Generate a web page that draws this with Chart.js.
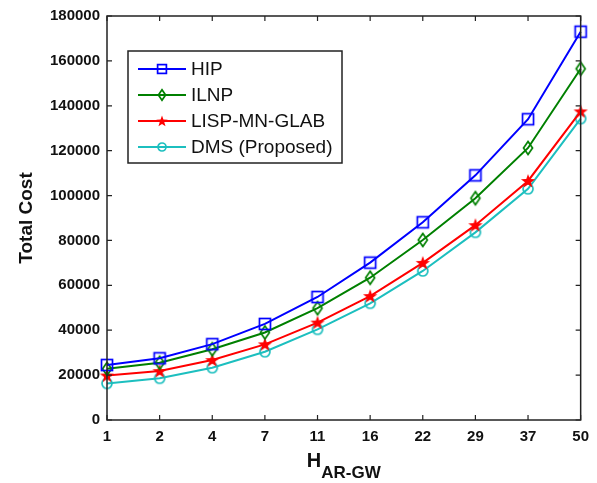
<!DOCTYPE html>
<html><head><meta charset="utf-8">
<script src="https://cdn.jsdelivr.net/npm/chart.js@4/dist/chart.umd.min.js"></script>
<style>html,body{margin:0;padding:0;background:#fff;}canvas{display:block}</style>
</head><body>
<canvas id="c" width="597" height="483"></canvas>
<script>
const categories = ['1','2','4','7','11','16','22','29','37','50'];
const seriesNames = ['HIP','ILNP','LISP-MN-GLAB','DMS (Proposed)'];
const hipValues  = [24500, 27500, 33800, 42800, 54800, 70100, 88100, 109000, 134000, 173000];
const ilnpValues = [22800, 25500, 31500, 39000, 49800, 63400, 80200, 98800, 121200, 156500];
const lispValues = [19800, 21800, 26700, 33700, 43400, 55200, 70000, 86800, 106500, 137500];
const dmsValues  = [16300, 18600, 23300, 30400, 40400, 52000, 66400, 83600, 103000, 134300];
const yTickValues = [0,20000,40000,60000,80000,100000,120000,140000,160000,180000];
const yTitle = 'Total Cost';
const xTitleMain = 'H';
const xTitleSub = 'AR-GW';

const FONT = "'Liberation Sans', Arial, sans-serif";
const colors = ['#0000FF', '#008000', '#FF0000', '#1CBFBF'];

function makeMarker(kind, color, scale){
  const s = 18, m = s/2;
  const c = document.createElement('canvas'); c.width = s; c.height = s;
  const g = c.getContext('2d');
  g.strokeStyle = color; g.fillStyle = color; g.lineWidth = 1.7;
  const k = scale;
  if (kind === 'square') {
    g.strokeRect(m-5.5*k, m-5.5*k, 11*k, 11*k);
  } else if (kind === 'diamond') {
    g.beginPath(); g.moveTo(m, m-6.5*k); g.lineTo(m+4.5*k, m); g.lineTo(m, m+6.5*k); g.lineTo(m-4.5*k, m); g.closePath(); g.stroke();
  } else if (kind === 'star') {
    g.beginPath();
    for (let i = 0; i < 10; i++) {
      const r = (i % 2 === 0 ? 7.5 : 3) * k;
      const a = -Math.PI/2 + i*Math.PI/5;
      const px = m + r*Math.cos(a), py = m + 0.5 + r*Math.sin(a);
      if (i === 0) g.moveTo(px, py); else g.lineTo(px, py);
    }
    g.closePath(); g.fill();
  } else {
    g.beginPath(); g.arc(m, m, 5*k, 0, Math.PI*2); g.stroke();
  }
  return c;
}
const kinds = ['square','diamond','star','circle'];
const markers = kinds.map((k, i) => makeMarker(k, colors[i], 1));
const legendMarkers = kinds.map((k, i) => makeMarker(k, colors[i], 0.8));
const allValues = [hipValues, ilnpValues, lispValues, dmsValues];

const datasets = allValues.map((vals, i) => ({
  label: seriesNames[i],
  data: vals,
  borderColor: colors[i],
  backgroundColor: colors[i],
  borderWidth: 2,
  pointStyle: markers[i],
  pointRadius: 6,
  pointHoverRadius: 6,
  tension: 0,
  fill: false
}));

const framePlugin = {
  id: 'frame',
  afterDraw(chart) {
    const ctx = chart.ctx, ca = chart.chartArea;
    const xs = chart.scales.x, ys = chart.scales.y;
    ctx.save();
    ctx.strokeStyle = '#222'; ctx.lineWidth = 1.5;
    ctx.strokeRect(ca.left, ca.top, ca.right - ca.left, ca.bottom - ca.top);
    ctx.lineWidth = 1.2;
    ctx.beginPath();
    xs.ticks.forEach((t, i) => {
      const px = xs.getPixelForTick(i);
      ctx.moveTo(px, ca.bottom); ctx.lineTo(px, ca.bottom - 5);
      ctx.moveTo(px, ca.top); ctx.lineTo(px, ca.top + 5);
    });
    ys.ticks.forEach((t) => {
      const py = ys.getPixelForValue(t.value);
      ctx.moveTo(ca.left, py); ctx.lineTo(ca.left + 5, py);
      ctx.moveTo(ca.right, py); ctx.lineTo(ca.right - 5, py);
    });
    ctx.stroke();

    // x-axis title with subscript
    ctx.fillStyle = '#111';
    ctx.textBaseline = 'alphabetic';
    ctx.font = 'bold 20px ' + FONT;
    const w1 = ctx.measureText(xTitleMain).width;
    ctx.font = 'bold 17px ' + FONT;
    const w2 = ctx.measureText(xTitleSub).width;
    const cx = (ca.left + ca.right) / 2;
    let sx = cx - (w1 + w2) / 2;
    ctx.font = 'bold 20px ' + FONT;
    ctx.textAlign = 'left';
    ctx.fillText(xTitleMain, sx, ca.bottom + 47);
    ctx.font = 'bold 17px ' + FONT;
    ctx.fillText(xTitleSub, sx + w1, ca.bottom + 58);

    // legend
    const lx = ca.left + 21, ly = ca.top + 35, lw = 214, lh = 112;
    ctx.fillStyle = '#fff';
    ctx.fillRect(lx, ly, lw, lh);
    ctx.strokeStyle = '#222'; ctx.lineWidth = 1.5;
    ctx.strokeRect(lx, ly, lw, lh);
    ctx.font = '19px ' + FONT;
    ctx.textBaseline = 'middle';
    chart.data.datasets.forEach((ds, i) => {
      const ry = ly + 18 + i * 26;
      ctx.strokeStyle = ds.borderColor; ctx.lineWidth = 2;
      ctx.beginPath(); ctx.moveTo(lx + 10, ry); ctx.lineTo(lx + 58, ry); ctx.stroke();
      const mk = legendMarkers[i];
      ctx.drawImage(mk, lx + 34 - mk.width/2, ry - mk.height/2);
      ctx.fillStyle = '#111';
      ctx.fillText(ds.label, lx + 63, ry + 1);
    });
    ctx.restore();
  }
};

new Chart(document.getElementById('c'), {
  type: 'line',
  data: { labels: categories, datasets },
  options: {
    responsive: false,
    animation: false,
    devicePixelRatio: 1,
    layout: { padding: { left: 0, right: 12, top: 16, bottom: 0 } },
    plugins: { legend: { display: false }, tooltip: { enabled: false } },
    scales: {
      x: {
        type: 'category',
        offset: false,
        grid: { display: false, drawTicks: false },
        border: { display: false },
        ticks: { color: '#111', font: { family: FONT, size: 15, weight: 'bold' }, padding: 8, maxRotation: 0, autoSkip: false },
        afterFit(s) { s.height = 63; }
      },
      y: {
        min: 0, max: 180000,
        afterBuildTicks(s) { s.ticks = yTickValues.map(v => ({ value: v })); },
        grid: { display: false, drawTicks: false },
        border: { display: false },
        ticks: { color: '#111', font: { family: FONT, size: 15, weight: 'bold' }, padding: 7, callback: v => String(v) },
        title: { display: true, text: yTitle, color: '#111', font: { family: FONT, size: 19, weight: 'bold' }, padding: { top: 15, bottom: 0 } },
        afterFit(s) { s.width = 107; }
      }
    }
  },
  plugins: [framePlugin]
});
</script>
</body></html>
